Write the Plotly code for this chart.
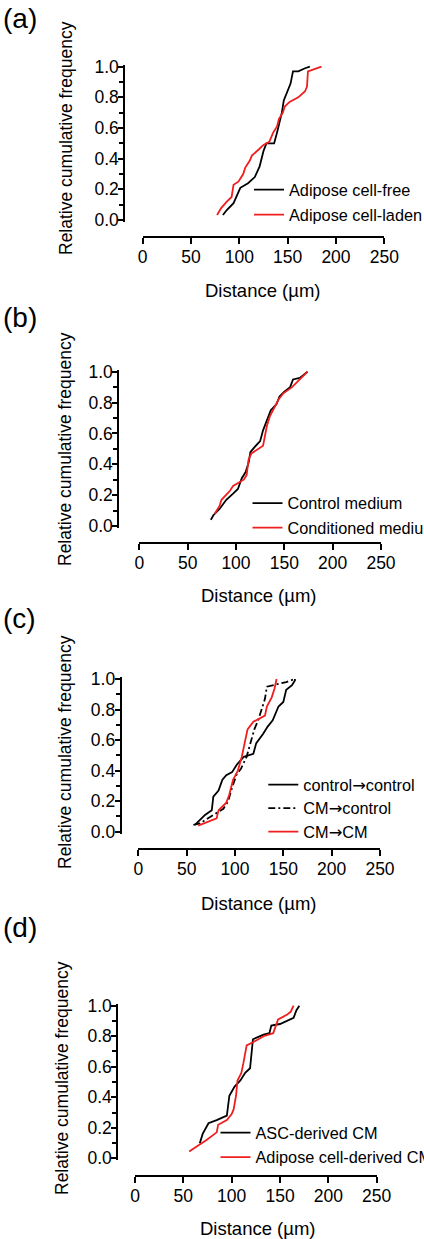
import plotly.graph_objects as go

# ---------------- data ----------------
# Panel (a)
a_free_x = [83, 87, 94, 98, 101, 109, 116, 121, 125, 128, 136, 139, 141, 144, 146, 150, 153, 155.5, 161, 168, 173]
a_free_y = [0.033, 0.065, 0.11, 0.17, 0.21, 0.24, 0.28, 0.35, 0.45, 0.50, 0.50, 0.57, 0.62, 0.70, 0.78, 0.85, 0.89, 0.97, 0.97, 0.99, 1.0]
a_laden_x = [77, 81, 87, 92, 94, 99, 104, 106, 111, 113, 120, 125, 131, 135, 139, 141, 145, 147, 152, 161, 168, 170, 171, 176, 185]
a_laden_y = [0.033, 0.076, 0.12, 0.15, 0.23, 0.25, 0.30, 0.34, 0.39, 0.42, 0.46, 0.49, 0.51, 0.57, 0.61, 0.66, 0.70, 0.74, 0.77, 0.80, 0.84, 0.87, 0.97, 0.98, 1.0]

# Panel (b)
b_ctrl_x = [74, 76.6, 83, 90, 97, 102, 106, 110, 113, 115, 119, 125, 128, 132, 136, 142, 145, 150, 156, 159, 166, 174]
b_ctrl_y = [0.04, 0.07, 0.11, 0.17, 0.21, 0.24, 0.31, 0.35, 0.41, 0.48, 0.51, 0.55, 0.62, 0.68, 0.75, 0.79, 0.84, 0.87, 0.90, 0.95, 0.96, 1.0]
b_cond_x = [78, 83, 85, 94, 97, 108, 111, 113, 116, 128, 132, 135, 144, 149, 158, 164, 174]
b_cond_y = [0.08, 0.13, 0.17, 0.23, 0.26, 0.30, 0.33, 0.43, 0.47, 0.52, 0.65, 0.71, 0.82, 0.86, 0.90, 0.94, 1.0]

# Panel (c)
c_cc_x = [58.6, 64, 69, 76, 77.6, 83, 87, 91, 97, 102, 109, 119, 122, 129, 134, 139, 142, 145, 150, 153, 159, 162, 162]
c_cc_y = [0.044, 0.076, 0.11, 0.14, 0.23, 0.27, 0.34, 0.37, 0.39, 0.44, 0.49, 0.51, 0.58, 0.64, 0.69, 0.73, 0.78, 0.82, 0.85, 0.93, 0.96, 0.99, 1.0]
c_cmc_x = [57, 64, 69, 77.6, 88, 93, 97, 102, 106, 112, 115, 120, 124, 129, 131, 133, 140, 153, 162]
c_cmc_y = [0.044, 0.055, 0.076, 0.11, 0.15, 0.20, 0.29, 0.38, 0.41, 0.49, 0.56, 0.67, 0.73, 0.82, 0.87, 0.95, 0.96, 0.98, 1.0]
c_cmcm_x = [62, 81, 83, 91, 94, 98, 103, 107, 110, 113, 119, 131, 133, 138, 141, 143]
c_cmcm_y = [0.04, 0.087, 0.14, 0.19, 0.24, 0.34, 0.40, 0.49, 0.58, 0.67, 0.72, 0.76, 0.82, 0.88, 0.94, 1.0]

# Panel (d)
d_asc_x = [67, 70, 76, 84.5, 95, 97.6, 103, 109, 114, 119, 122, 133, 139, 141, 150, 164, 167, 170]
d_asc_y = [0.098, 0.16, 0.23, 0.25, 0.28, 0.41, 0.47, 0.51, 0.56, 0.59, 0.78, 0.81, 0.82, 0.87, 0.88, 0.92, 0.97, 1.0]
d_adi_x = [56, 64, 74, 84.5, 86, 95, 100, 102, 104.5, 106, 110, 112, 115.5, 122, 133, 143, 148, 157, 161, 164]
d_adi_y = [0.044, 0.076, 0.12, 0.17, 0.22, 0.25, 0.29, 0.32, 0.41, 0.51, 0.56, 0.62, 0.74, 0.76, 0.80, 0.82, 0.91, 0.94, 0.96, 1.0]

x_ticks = [0, 50, 100, 150, 200, 250]
y_ticks = [0.0, 0.2, 0.4, 0.6, 0.8, 1.0]
x_title = "Distance (µm)"
y_title = "Relative cumulative frequency"
panel_labels = ["(a)", "(b)", "(c)", "(d)"]

# ---------------- layout geometry (pixels) ----------------
W, H = 424, 1239
FONT = "Arial, 'Liberation Sans', sans-serif"
BLACK = "#000000"
RED = "#f01e1e"
ARROW = '<span style="font-family:DejaVu Sans">\u2192</span>'

panels = [
    dict(x0=142.7, x1=384.3, y1=66.7, y0=220.0, yax=124.3, xax=237.3, yt=(66, 138), xt=(263, 290), lab=18, lx=289, rows=[190, 215]),
    dict(x0=139.3, x1=381.0, y1=371.7, y0=526.0, yax=118.3, xax=543.3, yt=(65, 449), xt=(259, 595), lab=317, lx=287.5, rows=[503.5, 528]),
    dict(x0=138.3, x1=380.0, y1=679.0, y0=831.7, yax=120.7, xax=849.3, yt=(65, 752), xt=(259, 904), lab=618, lx=303.3, rows=[785, 808.5, 832]),
    dict(x0=135.0, x1=376.7, y1=1005.7, y0=1158.3, yax=117.3, xax=1176.0, yt=(62, 1078), xt=(257.5, 1228), lab=927, lx=255.5, rows=[1133, 1157.5]),
]

series = [
    [("Adipose cell-free", a_free_x, a_free_y, BLACK, "solid"),
     ("Adipose cell-laden", a_laden_x, a_laden_y, RED, "solid")],
    [("Control medium", b_ctrl_x, b_ctrl_y, BLACK, "solid"),
     ("Conditioned medium", b_cond_x, b_cond_y, RED, "solid")],
    [("control" + ARROW + "control", c_cc_x, c_cc_y, BLACK, "solid"),
     ("CM" + ARROW + "control", c_cmc_x, c_cmc_y, BLACK, "7px,3px,2px,3px"),
     ("CM" + ARROW + "CM", c_cmcm_x, c_cmcm_y, RED, "solid")],
    [("ASC-derived CM", d_asc_x, d_asc_y, BLACK, "solid"),
     ("Adipose cell-derived CM", d_adi_x, d_adi_y, RED, "solid")],
]

fig = go.Figure()
layout = dict(
    width=W, height=H,
    margin=dict(l=0, r=0, t=0, b=0, autoexpand=False),
    paper_bgcolor="white", plot_bgcolor="white",
    font=dict(family=FONT, size=17, color=BLACK),
    annotations=[],
)

PAD = 0.012
FS = 17.5
LFS = 16.3
leg_count = 0
for i, (p, sers) in enumerate(zip(panels, series)):
    n = i + 1
    xa = "xaxis" if n == 1 else f"xaxis{n}"
    ya = "yaxis" if n == 1 else f"yaxis{n}"
    xref = "x" if n == 1 else f"x{n}"
    yref = "y" if n == 1 else f"y{n}"

    ppu = (p["y0"] - p["y1"])
    ytop = p["y1"] - PAD * ppu
    ybot = p["y0"] + PAD * ppu

    layout[xa] = dict(
        domain=[p["x0"] / W, p["x1"] / W], range=[0, 250],
        anchor="free", position=1 - p["xax"] / H,
        tickvals=x_ticks, ticktext=[str(v) for v in x_ticks],
        ticks="outside", ticklen=6, tickwidth=2, tickcolor=BLACK,
        ticklabelstandoff=-2,
        showline=True, linewidth=2, linecolor=BLACK,
        showgrid=False, zeroline=False, fixedrange=True,
        tickfont=dict(size=FS, color=BLACK, family=FONT),
    )
    layout[ya] = dict(
        domain=[1 - ybot / H, 1 - ytop / H], range=[-PAD, 1 + PAD],
        anchor="free", position=p["yax"] / W,
        tickvals=y_ticks, ticktext=[f"{v:.1f}" for v in y_ticks],
        ticks="outside", ticklen=5, tickwidth=2, tickcolor=BLACK,
        ticklabelstandoff=-4,
        minor=dict(dtick=0.1, tick0=0, ticks="outside", ticklen=4, tickwidth=1.5, tickcolor=BLACK, showgrid=False),
        showline=True, linewidth=2, linecolor=BLACK,
        showgrid=False, zeroline=False, fixedrange=True,
        tickfont=dict(size=FS, color=BLACK, family=FONT),
    )
    for (name, xs, ys, col, dash), row_y in zip(sers, p["rows"]):
        leg_count += 1
        leg = "legend" if leg_count == 1 else f"legend{leg_count}"
        layout[leg] = dict(
            x=(p["lx"] - 40) / W, xanchor="left",
            y=1 - row_y / H, yanchor="middle",
            bgcolor="rgba(0,0,0,0)", borderwidth=0,
            font=dict(size=LFS, color=BLACK, family=FONT),
            itemclick=False, itemdoubleclick=False,
        )
        fig.add_trace(go.Scatter(
            x=xs, y=ys, mode="lines", name=name,
            line=dict(color=col, width=1.8, dash=dash),
            xaxis=xref, yaxis=yref, legend=leg, showlegend=True,
        ))

    layout["annotations"] += [
        dict(text=y_title, xref="paper", yref="paper",
             x=p["yt"][0] / W, y=1 - p["yt"][1] / H, xanchor="center", yanchor="middle",
             textangle=-90, showarrow=False, font=dict(size=17.5, color=BLACK, family=FONT)),
        dict(text=x_title, xref="paper", yref="paper",
             x=p["xt"][0] / W, y=1 - p["xt"][1] / H, xanchor="center", yanchor="middle",
             showarrow=False, font=dict(size=18.5, color=BLACK, family=FONT)),
        dict(text=panel_labels[i], xref="paper", yref="paper",
             x=1 / W, y=1 - p["lab"] / H, xanchor="left", yanchor="middle",
             showarrow=False, font=dict(size=28, color=BLACK, family=FONT)),
    ]

fig.update_layout(**layout)
fig.write_html("out.html", config={"displayModeBar": False},
               post_script="document.body.style.margin='0';document.body.style.overflow='hidden';")
